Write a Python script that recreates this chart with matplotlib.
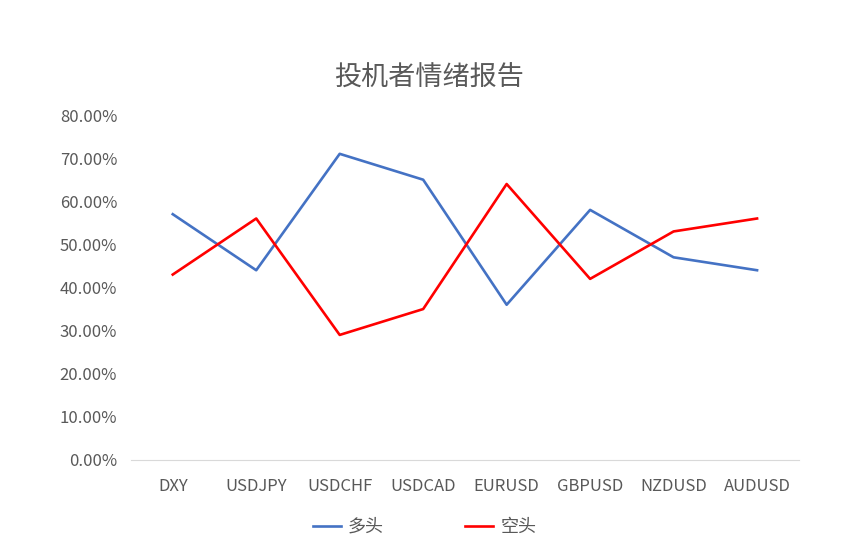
import matplotlib
matplotlib.use('Agg')
import matplotlib.pyplot as plt
from matplotlib.ticker import FuncFormatter

plt.rcParams['font.family'] = ['Noto Sans CJK SC', 'DejaVu Sans']

# 数据
pairs = ['DXY', 'USDJPY', 'USDCHF', 'USDCAD', 'EURUSD', 'GBPUSD', 'NZDUSD', 'AUDUSD']
long_pct = [57, 44, 71, 65, 36, 58, 47, 44]
short_pct = [43, 56, 29, 35, 64, 42, 53, 56]

fig = plt.figure(figsize=(8.58, 5.57), dpi=100)
ax = fig.add_axes([0.1527, 0.1742, 0.7783, 0.6193])

x = range(len(pairs))
ax.plot(x, long_pct, color='#4472C4', lw=1.9, label='多头')
ax.plot(x, short_pct, color='#FF0000', lw=1.9, label='空头')

ax.set_xlim(-0.5, len(pairs) - 0.5)
ax.set_ylim(0, 80)
ax.set_yticks(range(0, 81, 10))
ax.yaxis.set_major_formatter(FuncFormatter(lambda v, p: '%.2f%%' % v))
ax.set_xticks(list(x))
ax.set_xticklabels(pairs)

for s in ['top', 'right', 'left']:
    ax.spines[s].set_visible(False)
ax.spines['bottom'].set_color('#D9D9D9')
ax.tick_params(axis='both', length=0, labelsize=12, colors='#595959')
ax.tick_params(axis='x', pad=13)
ax.tick_params(axis='y', pad=10)

fig.text(0.5, 0.86, '投机者情绪报告', ha='center', va='center',
         fontsize=19.5, color='#595959')

leg = fig.legend(loc='center', bbox_to_anchor=(0.495, 0.054), ncol=2,
                 frameon=False, fontsize=13, handlelength=1.55,
                 handletextpad=0.4, columnspacing=4.5, labelcolor='#595959')

plt.savefig('out.png', dpi=100)
